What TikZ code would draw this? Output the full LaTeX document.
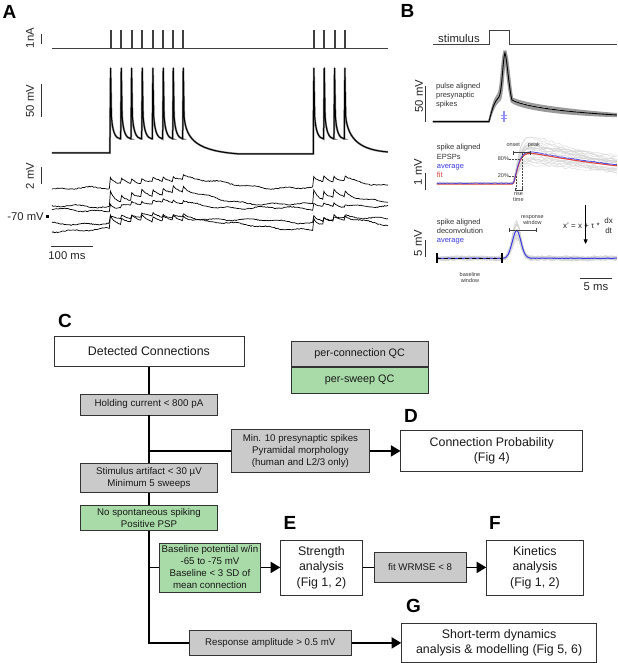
\documentclass[tikz,border=0pt]{standalone}
\usepackage{fontspec}
\setmainfont{Liberation Sans}
\usetikzlibrary{arrows.meta,positioning}
\tikzset{>/.tip={Triangle[scale=1.3]}}

\definecolor{qcgray}{HTML}{CACACA}
\definecolor{qcgreen}{HTML}{A8DBA8}
\definecolor{avgblue}{HTML}{3A3AE6}
\definecolor{fitred}{HTML}{E0443C}

% spike times of the two trains (pixels)
\def\trainA{110,120.7,131,141.7,152.3,162.7,172.7}
\def\trainB{313.3,323.7,334}
\def\pulsesA{110,120.7,131,141.7,152.3,162.7,172.7,182.7,313.3,323.7,334,344.3}

\begin{document}
\begin{tikzpicture}[x=1pt,y=-1pt,
  declare function={
    dd(\x,\t,\s)=min(max(\x-\t,0)/\s,9);
    ep(\x,\t,\a)=\a*(\x>\t)*(0.55*exp(-dd(\x,\t,3.5))+0.45*exp(-dd(\x,\t,55)));
    tr(\x)=ep(\x,110,1)+ep(\x,120.7,.5)+ep(\x,131,.5)+ep(\x,141.7,.45)+ep(\x,152.3,.45)
      +ep(\x,162.7,.4)+ep(\x,172.7,.4)+ep(\x,182.7,.4)
      +ep(\x,313.3,.9)+ep(\x,323.7,.5)+ep(\x,334,.45)+ep(\x,344.3,.4);
    eps(\x)=(1-exp(-dd(\x,513,4)))^2*exp(-max(\x-513,0)/160);
    dec(\x)=exp(-min(((\x-516.7)/6)^2,9));
  },
  panel/.style={font=\fontsize{19}{19}\selectfont\bfseries, inner sep=0pt},
  axislabel/.style={font=\fontsize{11.3}{13}\selectfont, inner sep=0pt, text=black!85},
  tiny/.style={font=\fontsize{5.5}{6}\selectfont, inner sep=0pt, text=black!80, align=center},
  note/.style={font=\fontsize{7.5}{9.2}\selectfont, inner sep=0pt, text=black!80, align=left, anchor=north west},
  scalebar/.style={line width=0.9pt, black!80},
  stimtrace/.style={line width=0.8pt, black!75},
  spiketrace/.style={line width=1pt, black, line join=round, preaction={draw=black!45, line width=2pt}},
  epsptrace/.style={line width=0.7pt, black},
  grtrace/.style={line width=0.4pt, black!17},
  result/.style={draw=black!80, line width=0.8pt, fill=white, align=center, inner sep=0pt,
    text=black!90, font=\fontsize{12.4}{15.5}\selectfont},
  qcbox/.style={draw=black!80, line width=0.8pt, fill=qcgray, align=center, inner sep=0pt,
    text=black!90, font=\fontsize{9.7}{12}\selectfont},
  swbox/.style={qcbox, fill=qcgreen},
  link/.style={line width=1.6pt, black}]

\fill[white] (0,0) rectangle (617,663);
\pgfmathsetseed{7}

% ---------------- panel A
\node[panel] (labA) at (9.5,11.5) {A};
\draw[scalebar] (41,34) -- (41,44);
\node[axislabel, rotate=90] (lab1nA) at (30,38) {1nA};
\draw[stimtrace] (52,48) foreach \t in \pulsesA { -- (\t,48) -- (\t,30) -- ({\t+1},30) -- ({\t+1},48) } -- (388,48);

\draw[scalebar] (41,84) -- (41,117);
\node[axislabel, rotate=90] (lab50a) at (30,101) {50 mV};
\draw[spiketrace] (52,153) -- (110,153)
  foreach \t in \trainA { -- (\t,139) -- ({\t+0.6},68) -- ({\t+1.4},116) .. controls ({\t+2.6},132) and ({\t+5},138) .. ({\t+10.4},139) }
  -- (182.7,139) -- (183.3,68) -- (184.1,116) .. controls (186,141) and (198,151) .. (240,154) -- (313.3,154)
  foreach \t in \trainB { -- (\t,139) -- ({\t+0.6},68) -- ({\t+1.4},116) .. controls ({\t+2.6},132) and ({\t+5},138) .. ({\t+10.4},139) }
  -- (344.3,139) -- (344.9,68) -- (345.7,116) .. controls (348,141) and (362,150) .. (388,152);

\draw[scalebar] (41,167) -- (41,184);
\node[axislabel, rotate=90] (lab2mV) at (30,176) {2 mV};
\node[axislabel, anchor=east] (lab70) at (44,217) {-70 mV};
\fill[black] (46.5,215.5) rectangle (49.5,218.5);
\foreach \bs/\amp/\ph in {189/12/0, 207/17/70, 210/8/140, 223/8/210, 230/14/280}
  \draw[epsptrace] plot[domain=52:388, samples=300]
    (\x, {\bs - \amp*tr(\x) + 0.45*rand + 1.4*sin(3*\x+\ph) + 0.9*sin(11*\x+2*\ph)});
\draw[scalebar] (51,246) -- (93,246);
\node[axislabel] (lab100) at (67,255.5) {100 ms};

% ---------------- panel B
\node[panel] (labB) at (407.5,10.5) {B};
\node[axislabel] (labstim) at (459,38) {stimulus};
\draw[stimtrace] (433,44) -- (489.3,44) -- (489.3,30.7) -- (509,30.7) -- (509,44) -- (617,44);

\draw[scalebar] (426,86) -- (426,121.7);
\node[axislabel, rotate=90] (lab50b) at (419,96) {50 mV};
\node[note] (txtpre) at (436,82.6) {pulse aligned\\presynaptic\\spikes};
\foreach \d/\e in {-1.2/-2.5, -0.6/2, 0.7/1, 1.3/3, 0.3/-1.5}
  \draw[line width=1.4pt, black!40] (433,121.7) -- (489,121.7) .. controls (492,{110+\e}) and (494,{102+\e}) .. ({499+\d},{97+\e})
    .. controls ({502+\d},93) and ({503+\d},58) .. ({505+\d},53) .. controls ({507+\d},58) and ({509+\d},88) .. ({512+\d},{100+\e})
    .. controls (525,{107+\e}) and (565,{112+\e}) .. (617,{115+\e/2});
\draw[line width=0.9pt, black] (433,121.7) -- (489,121.7) .. controls (492,110) and (494,102) .. (499,97)
  .. controls (502,93) and (503,58) .. (505,53) .. controls (507,58) and (509,88) .. (512,100)
  .. controls (525,107) and (565,112) .. (617,115);
\draw[avgblue!55, line width=1.8pt] (504,111) -- (504,122);
\draw[avgblue!55, line width=0.8pt] (501,115) -- (507,115) (501,118) -- (507,118);

% EPSPs
\draw[scalebar] (426,173) -- (426,190);
\node[axislabel, rotate=90] (lab1mV) at (418,172) {1 mV};
\foreach \i in {1,...,22}{
  \pgfmathsetmacro{\amp}{35.6*(1+0.45*rand)}
  \pgfmathsetmacro{\ph}{360*rnd}
  \draw[grtrace] plot[domain=437:617, samples=70] (\x, {183.3 - \amp*eps(\x) + 1.1*rand + 2*sin(4*\x+\ph)*eps(\x)});
}
\draw[line width=1.1pt, fitred] plot[domain=437:617, samples=90] (\x, {184.2 - 35.2*eps(\x)});
\draw[line width=0.8pt, avgblue, opacity=0.85] plot[domain=437:617, samples=120] (\x, {183.3 - 35.6*eps(\x) + 0.35*rand});
\node[note] (txtepsp) at (436.7,144.3) {spike aligned\\EPSPs\\\textcolor{avgblue}{average}\\\textcolor{fitred}{fit}};
\draw[line width=0.5pt, black!75] (513.3,152.7) -- (530,152.7) (513.3,150.7) -- (513.3,154.7) (530,150.7) -- (530,154.7);
\node[tiny] (txtonset) at (513.3,145) {onset};
\node[tiny] (txtpeak) at (534,145) {peak};
\node[tiny] (txt80) at (503.5,159) {80\%};
\node[tiny] (txt20) at (503.5,176) {20\%};
\draw[densely dotted, black!70, line width=0.5pt] (509,159) -- (521,159) (509,176) -- (515,176)
  (516,176) -- (516,189) (522.5,153) -- (522.5,189);
\draw[line width=0.5pt, black!75] (515.5,190) -- (522.5,190) (515.5,188.5) -- (515.5,191.5) (522.5,188.5) -- (522.5,191.5);
\node[tiny] (txtrise) at (518.5,196.4) {rise\\time};

% deconvolution
\draw[scalebar] (426,240) -- (426,257.3);
\node[axislabel, rotate=90] (lab5mV) at (418,243) {5 mV};
\foreach \i in {1,...,22}{
  \pgfmathsetmacro{\amp}{28*(1+0.3*rand)}
  \pgfmathsetmacro{\ph}{360*rnd}
  \draw[grtrace] plot[domain=437:617, samples=80] (\x, {258.3 - \amp*dec(\x) + 1.4*rand + 1.4*sin(5*\x+\ph)});
}
\draw[line width=1pt, avgblue] plot[domain=437:617, samples=140] (\x, {258.3 - 28*dec(\x) + 0.3*rand});
\node[note] (txtdec) at (436.7,218.5) {spike aligned\\deconvolution\\\textcolor{avgblue}{average}};
\draw[line width=1.5pt, black, dash pattern=on 4pt off 3pt] (437,258.3) -- (502,258.3);
\draw[line width=1.2pt, black] (437,253.5) -- (437,263) (502,253.5) -- (502,263);
\node[tiny] (txtbase) at (470,277.3) {baseline\\window};
\draw[line width=0.5pt, black!75] (509.3,230) -- (536,230) (509.3,228) -- (509.3,232) (536,228) -- (536,232);
\node[tiny] (txtresp) at (532.5,220.3) {response\\window};
\node[font=\fontsize{8}{9}\selectfont, inner sep=0pt, anchor=east, text=black!85] (eqn) at (600,226) {x' = x + τ *};
\node[font=\fontsize{8}{10}\selectfont, inner sep=0pt, align=center, text=black!85] (eqfrac) at (608.7,225.3) {dx\\dt};
\coordinate (arrtop) at (585.7,205);
\coordinate (arrbot) at (585.7,244);
\draw[line width=0.7pt, black, -{Triangle[length=4.5pt,width=4pt]}] (arrtop) -- (arrbot);
\draw[scalebar] (580,278.3) -- (611.7,278.3);
\node[axislabel] (lab5ms) at (596,287) {5 ms};

% ---------------- panel C
\node[panel] (labC) at (65,321) {C};
\node[panel] (labD) at (411,416) {D};
\node[panel] (labE) at (290,523.5) {E};
\node[panel] (labF) at (495,523.5) {F};
\node[panel] (labG) at (413.5,606.5) {G};

\node[result, minimum width=190pt, minimum height=30.7pt] (det) at (149,351.3) {Detected Connections};
\node[qcbox, minimum width=137.3pt, minimum height=21pt, font=\fontsize{9.8}{12}\selectfont] (hold) at (149,404.5) {Holding current < 800 pA};
\node[qcbox, minimum width=137.6pt, minimum height=28.7pt] (stim) at (149,478.3) {Stimulus artifact < 30 µV\\Minimum 5 sweeps};
\node[swbox, minimum width=137.6pt, minimum height=25pt] (spont) at (149,518.2) {No spontaneous spiking\\Positive PSP};
\node[qcbox, minimum width=137.6pt, minimum height=42.4pt] (min10) at (300.5,451) {Min. 10 presynaptic spikes\\Pyramidal morphology\\(human and L2/3 only)};
\node[result, minimum width=181.7pt, minimum height=40.6pt] (conn) at (491.8,451) {Connection Probability\\(Fig 4)};
\node[swbox, minimum width=101.4pt, minimum height=49pt] (base) at (210,567.5) {Baseline potential w/in\\-65 to -75 mV\\Baseline < 3 SD of\\mean connection};
\node[result, minimum width=81.6pt, minimum height=55pt] (strength) at (321.5,567.5) {Strength\\analysis\\(Fig 1, 2)};
\node[qcbox, minimum width=91.7pt, minimum height=29.4pt] (fitw) at (420.2,567.5) {fit WRMSE < 8};
\node[result, minimum width=96.6pt, minimum height=55pt] (kin) at (535,567.5) {Kinetics\\analysis\\(Fig 1, 2)};
\node[qcbox, minimum width=162.7pt, minimum height=25pt] (resp) at (270.3,643) {Response amplitude > 0.5 mV};
\node[result, minimum width=195pt, minimum height=39.4pt] (stp) at (499.2,643) {Short-term dynamics\\analysis \& modelling (Fig 5, 6)};

\node[qcbox, minimum width=137.3pt, minimum height=25pt, font=\fontsize{10.8}{12}\selectfont] (legconn) at (359.7,354.2) {per-connection QC};
\node[swbox, minimum width=137.3pt, minimum height=25.6pt, font=\fontsize{10.8}{12}\selectfont, below=0pt of legconn] (legsweep) {per-sweep QC};

\draw[link] (det) -- (hold);
\draw[link] (hold) -- (stim);
\draw[link] (stim) -- (spont);
\draw[link] (spont.south) |- (resp.west);
\draw[link] (min10.west) -- (min10.west -| hold.south);
\draw[link,->] (min10) -- (conn);
\draw[link] (base.west) -- (base.west -| spont.south);
\draw[link,->] (base) -- (strength);
\draw[link] (strength) -- (fitw);
\draw[link,->] (fitw) -- (kin);
\draw[link,->] (resp) -- (stp);
\end{tikzpicture}
\end{document}
